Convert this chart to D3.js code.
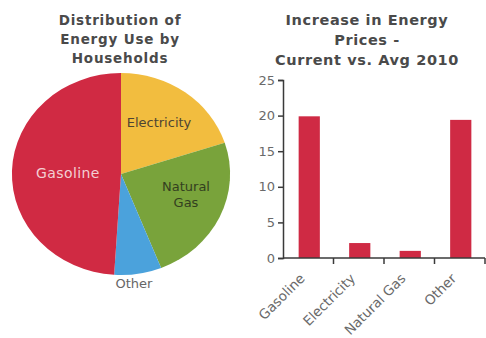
<!DOCTYPE html>
<html>
<head>
<meta charset="utf-8">
<script src="https://cdn.jsdelivr.net/npm/d3@7"></script>
<style>
  body { margin: 0; background: #fff; }
  text { font-family: "DejaVu Sans", Verdana, sans-serif; }
</style>
</head>
<body>
<div id="chart-area"></div>
<script>
// Pie data (share of household energy use, %)
var pieLabels = ["Electricity", "Natural Gas", "Other", "Gasoline"];
var pieValues = [20, 24, 7, 49];
var pieColors = ["#f2bd3f", "#79a33b", "#4ba2dc", "#d02a43"];

// Bar data (price increase)
var barLabels = ["Gasoline", "Electricity", "Natural Gas", "Other"];
var barValues = [19.9, 2.1, 1.0, 19.4];
var yTicks = [0, 5, 10, 15, 20, 25];

var width = 486, height = 338;

var svg = d3.select("#chart-area").append("svg")
  .attr("width", width)
  .attr("height", height);

// ---------- Pie ----------
var title1 = ["Distribution of", "Energy Use by", "Households"];
svg.append("g").selectAll("text")
  .data(title1).enter().append("text")
  .attr("x", 120)
  .attr("y", function(d, i) { return 24.5 + i * 19; })
  .attr("text-anchor", "middle")
  .attr("font-size", "13.5px")
  .attr("letter-spacing", "0.8px")
  .attr("font-weight", "bold")
  .attr("fill", "#4a4a4a")
  .text(function(d) { return d; });

var r = 101;
var pieG = svg.append("g")
  .attr("transform", "translate(121,174) scale(1.08,1)");

var pie = d3.pie().sort(null)(pieValues);
var arc = d3.arc().innerRadius(0).outerRadius(r);

pieG.selectAll("path")
  .data(pie).enter().append("path")
  .attr("d", arc)
  .attr("fill", function(d, i) { return pieColors[i]; });

var labelG = svg.append("g").attr("font-size", "13px");
labelG.append("text").attr("x", 159).attr("y", 127)
  .attr("text-anchor", "middle").attr("fill", "#4d4433").text(pieLabels[0]);
labelG.append("text").attr("x", 186).attr("y", 191)
  .attr("text-anchor", "middle").attr("fill", "#33401f").text("Natural");
labelG.append("text").attr("x", 186).attr("y", 207)
  .attr("text-anchor", "middle").attr("fill", "#33401f").text("Gas");
labelG.append("text").attr("x", 134).attr("y", 288)
  .attr("text-anchor", "middle").attr("fill", "#666").text(pieLabels[2]);
labelG.append("text").attr("x", 68).attr("y", 178)
  .attr("text-anchor", "middle").attr("fill", "#f3cfd3").attr("font-size", "14px")
  .attr("letter-spacing", "0.4px").text(pieLabels[3]);

// ---------- Bars ----------
var title2 = ["Increase in Energy", "Prices -", "Current vs. Avg 2010"];
svg.append("g").selectAll("text")
  .data(title2).enter().append("text")
  .attr("x", 367)
  .attr("y", function(d, i) { return 25 + i * 20; })
  .attr("text-anchor", "middle")
  .attr("font-size", "14.5px")
  .attr("letter-spacing", "0.6px")
  .attr("font-weight", "bold")
  .attr("fill", "#4a4a4a")
  .text(function(d) { return d; });

var bLeft = 283, bRight = 485, bTop = 80, bBottom = 258;

var x = d3.scaleBand().domain(barLabels).range([bLeft, bRight]).padding(0);
var y = d3.scaleLinear().domain([0, 25]).range([bBottom, bTop]);

var barW = x.bandwidth() * 0.42;
svg.append("g").selectAll("rect")
  .data(barValues).enter().append("rect")
  .attr("x", function(d, i) { return x(barLabels[i]) + x.bandwidth() / 2 - barW / 2 + 1; })
  .attr("y", function(d) { return y(d); })
  .attr("width", barW)
  .attr("height", function(d) { return bBottom - y(d); })
  .attr("fill", "#cf2a44");

// y axis
var yAxis = svg.append("g")
  .attr("transform", "translate(" + bLeft + ",0)")
  .call(d3.axisLeft(y).tickValues(yTicks).tickSize(5).tickPadding(3));
yAxis.select(".domain").attr("stroke", "#3a3a3a").attr("stroke-width", 1.5);
yAxis.selectAll(".tick line").attr("stroke", "#3a3a3a").attr("stroke-width", 1.5);
yAxis.selectAll(".tick text").attr("font-size", "13px").attr("fill", "#6a6a6a")
  .attr("font-family", "DejaVu Sans, Verdana, sans-serif");

// x axis line with ticks between categories
var xg = svg.append("g");
xg.append("line")
  .attr("x1", bLeft).attr("x2", bRight)
  .attr("y1", bBottom).attr("y2", bBottom)
  .attr("stroke", "#3a3a3a").attr("stroke-width", 1.5);
var bounds = barLabels.map(function(d) { return x(d) + x.bandwidth(); });
xg.selectAll(".xt")
  .data(bounds).enter().append("line")
  .attr("x1", function(d) { return d; }).attr("x2", function(d) { return d; })
  .attr("y1", bBottom).attr("y2", bBottom + 6)
  .attr("stroke", "#3a3a3a").attr("stroke-width", 1.5);

xg.selectAll(".xl")
  .data(barLabels).enter().append("text")
  .attr("transform", function(d) {
    return "translate(" + (x(d) + x.bandwidth() / 2 - 6) + "," + (bBottom + 18) + ") rotate(-45)";
  })
  .attr("text-anchor", "end")
  .attr("dy", "0.35em")
  .attr("font-size", "13.5px")
  .attr("fill", "#6a6a6a")
  .text(function(d) { return d; });
</script>
</body>
</html>
